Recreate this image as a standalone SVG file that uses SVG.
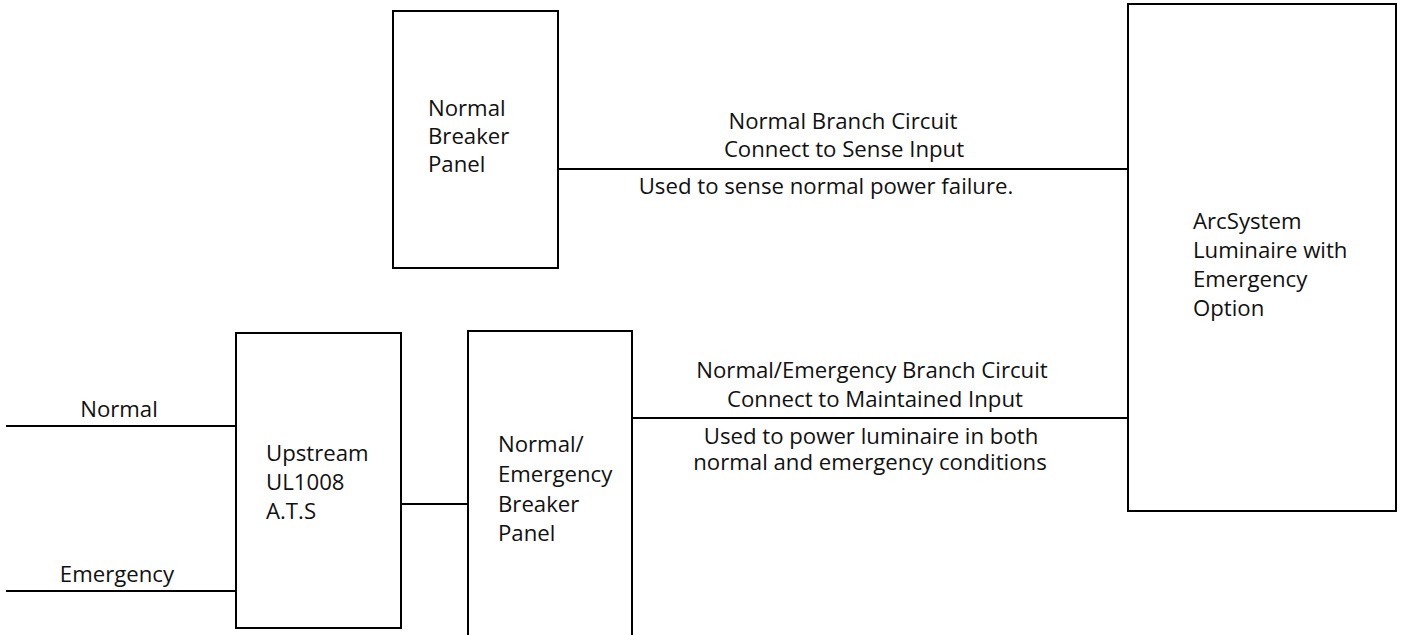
<svg xmlns="http://www.w3.org/2000/svg" width="1401" height="635" viewBox="0 0 1401 635">
<style>
.box{fill:#fff;stroke:#000;stroke-width:2}
.ln{stroke:#000;stroke-width:2;fill:none}
text{font-family:"Open Sans","Noto Sans","DejaVu Sans",sans-serif;font-size:22.2px;fill:#111}
.c{text-anchor:middle}
</style>
<rect width="1401" height="635" fill="#fff"/>
<g id="connectors">
<line class="ln" x1="6" y1="426" x2="236" y2="426"/>
<line class="ln" x1="6" y1="591" x2="236" y2="591"/>
<line class="ln" x1="401" y1="504" x2="468" y2="504"/>
<line class="ln" x1="558" y1="169" x2="1128" y2="169"/>
<line class="ln" x1="632" y1="418" x2="1128" y2="418"/>
<text class="c" x="119" y="417">Normal</text>
<text class="c" x="117" y="582">Emergency</text>
<text class="c" x="843" y="129">Normal Branch Circuit</text>
<text class="c" x="844" y="157">Connect to Sense Input</text>
<text class="c" x="826" y="194">Used to sense normal power failure.</text>
<text class="c" x="872" y="378">Normal/Emergency Branch Circuit</text>
<text class="c" x="875" y="407">Connect to Maintained Input</text>
<text class="c" x="871" y="444">Used to power luminaire in both</text>
<text class="c" x="870" y="470">normal and emergency conditions</text>
</g>
<g id="normal-breaker-panel">
<rect class="box" x="393" y="11" width="165" height="257"/>
<text x="428" y="116">Normal</text>
<text x="428" y="144">Breaker</text>
<text x="428" y="172">Panel</text>
</g>
<g id="luminaire">
<rect class="box" x="1128" y="4" width="268" height="507"/>
<text x="1193" y="229">ArcSystem</text>
<text x="1193" y="258">Luminaire with</text>
<text x="1193" y="287">Emergency</text>
<text x="1193" y="316">Option</text>
</g>
<g id="ats">
<rect class="box" x="236" y="333" width="165" height="295"/>
<text x="266" y="461">Upstream</text>
<text x="266" y="490">UL1008</text>
<text x="266" y="519">A.T.S</text>
</g>
<g id="ne-breaker-panel">
<rect class="box" x="468" y="331" width="164" height="320"/>
<text x="498" y="452">Normal/</text>
<text x="498" y="482">Emergency</text>
<text x="498" y="512">Breaker</text>
<text x="498" y="541">Panel</text>
</g>
</svg>
